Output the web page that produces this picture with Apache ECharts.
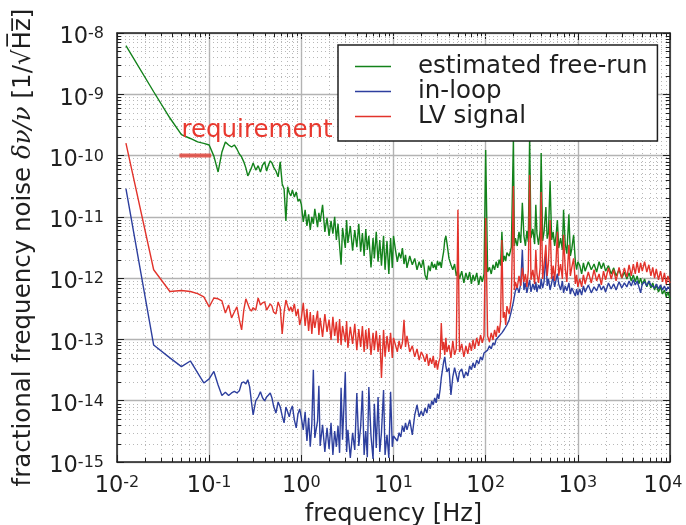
<!DOCTYPE html>
<html>
<head>
<meta charset="utf-8">
<script src="https://cdn.jsdelivr.net/npm/echarts@6/dist/echarts.min.js"></script>
<style>
  html, body { margin: 0; padding: 0; background: #ffffff; }
  #chart { width: 686px; height: 525px; }
</style>
</head>
<body>
<div id="chart"></div>
<script>
// Fourier frequencies of the noise spectra [Hz]
const freqHz = [
  0.0125, 0.025, 0.0375, 0.05, 0.0625, 0.075, 0.0875, 0.1, 0.1125, 0.125, 0.1375, 0.15,
  0.1625, 0.175, 0.1875, 0.2, 0.2125, 0.225, 0.2375, 0.25, 0.2625, 0.275, 0.2875, 0.3,
  0.32, 0.34, 0.36, 0.38, 0.4, 0.42, 0.44, 0.46, 0.48, 0.5, 0.53, 0.56, 0.59, 0.62, 0.65,
  0.68, 0.71, 0.74, 0.77, 0.8, 0.84, 0.88, 0.92, 0.96, 1,
  1.05, 1.1, 1.15, 1.2, 1.25, 1.3, 1.35, 1.4, 1.5, 1.55, 1.6, 1.7, 1.8, 1.9, 2, 2.1, 2.2,
  2.3, 2.4, 2.5, 2.6, 2.7, 2.8, 3, 3.1, 3.2, 3.4, 3.6, 3.8, 4, 4.2, 4.4, 4.6, 4.8, 5, 5.2,
  5.4, 5.7, 6, 6.2, 6.5, 6.8, 7.1, 7.4, 7.8, 8.1, 8.5, 8.9, 9.3, 9.7, 10,
  10.5, 11, 11.5, 12, 12.5, 13, 13.5, 14, 15, 16, 17, 18, 19, 20, 21, 22, 23, 24, 25, 26,
  27, 28, 29, 30, 31, 32, 33, 34, 35, 36, 37, 38, 40, 42, 44, 46, 48, 50, 52, 55, 58, 61,
  64, 67, 70, 73, 76, 80, 84, 88, 92, 96, 100,
  105, 110, 115, 120, 125, 130, 135, 140, 145, 150, 155, 160, 165, 170, 180, 190, 200, 205,
  210, 220, 230, 240, 250, 260, 270, 280, 290, 300, 310, 325, 340, 350, 360, 375, 390, 400,
  415, 430, 450, 465, 480, 500, 520, 540, 560, 580, 600, 620, 650, 680, 700, 730, 760, 800,
  830, 860, 900, 940, 970, 1000,
  1050, 1100, 1150, 1200, 1300, 1400, 1500, 1600, 1700, 1800, 1900, 2000, 2150, 2300, 2450,
  2600, 2800, 3000, 3200, 3400, 3600, 3800, 4000, 4200, 4400, 4600, 4800, 5000, 5300, 5600,
  5900, 6200, 6500, 6800, 7100, 7500, 7900, 8300, 8700, 9100, 9500, 10000
];

// estimated free-running laser noise [1/sqrt(Hz)]
const freeRun = [
  6.2e-9, 1.1e-9, 4.1e-10, 2.2e-10, 1.9e-10, 1.67e-10, 1.58e-10, 1.49e-10,
  9.8e-11, 5.4e-11, 1.14e-10, 1.67e-10, 1.49e-10, 1.38e-10, 1.49e-10, 1.28e-10,
  1.06e-10, 9.5e-11, 7.9e-11, 6.3e-11, 4.65e-11, 4.5e-11, 6.3e-11, 7.6e-11,
  5.8e-11, 6.8e-11, 5.4e-11, 7.0e-11, 7.9e-11, 5.6e-11, 7.0e-11, 8.2e-11,
  7.6e-11, 6.5e-11, 5.6e-11, 4.5e-11, 7.9e-11, 3.45e-11, 2.85e-11, 8.6e-12,
  3.1e-11, 2.45e-11, 2.2e-11, 2.75e-11, 2.1e-11, 2.55e-11, 1.8e-11, 1.95e-11, 1.6e-11,
  8.3e-12, 1.3e-11, 7.1e-12, 1.1e-11, 6.1e-12, 1.0e-11, 7.7e-12, 1.35e-11,
  6.8e-12, 1.16e-11, 8.3e-12, 1.57e-11, 5.7e-12, 9.6e-12, 4.9e-12, 8.6e-12,
  5.3e-12, 1.0e-11, 4.2e-12, 7.7e-12, 3.35e-12, 1.65e-12, 6.6e-12, 3.1e-12,
  8.9e-12, 3.75e-12, 7.1e-12, 2.8e-12, 6.1e-12, 3.2e-12, 7.7e-12, 2.7e-12,
  5.45e-12, 2.3e-12, 6.35e-12, 2.9e-12, 4.9e-12, 1.5e-12, 4.5e-12, 2.1e-12,
  5.7e-12, 1.85e-12, 4.2e-12, 1.6e-12, 4.9e-12, 1.37e-12, 4.05e-12, 1.17e-12,
  4.5e-12, 1.47e-12, 4.9e-12,
  2.9e-12, 1.85e-12, 2.6e-12, 2.1e-12, 3.1e-12, 1.7e-12, 2.4e-12, 1.47e-12,
  2.3e-12, 1.65e-12, 2.1e-12, 1.37e-12, 1.85e-12, 1.47e-12, 2.0e-12, 1.13e-12,
  9.4e-13, 1.6e-12, 1.3e-12, 1.85e-12, 1.47e-12, 1.7e-12, 1.37e-12, 1.9e-12,
  1.6e-12, 1.85e-12, 1.47e-12, 2.1e-12, 2.7e-12, 4.2e-12, 4.9e-12, 3.75e-12,
  2.1e-12, 1.65e-12, 1.37e-12, 1.7e-12, 1.09e-12, 1.37e-12, 9.7e-13, 1.3e-12,
  8.35e-13, 1.22e-12, 9.4e-13, 1.26e-12, 8.05e-13, 1.13e-12, 9.0e-13, 1.22e-12,
  7.75e-13, 1.09e-12, 8.7e-13, 1.17e-12, 1.23e-10,
  1.26e-12, 1.5e-12, 1.17e-12, 1.65e-12, 1.37e-12, 1.85e-12, 1.47e-12, 2.0e-12,
  1.6e-12, 5.7e-12, 1.85e-12, 2.3e-12, 1.9e-12, 2.6e-12, 2.3e-12, 3.2e-12,
  1.93e-10, 3.35e-12, 4.5e-12, 3.35e-12, 5.7e-12, 3.75e-12, 1.7e-11, 4.9e-12,
  3.35e-12, 5.9e-12, 3.9e-12, 2.1e-10, 4.5e-12, 6.35e-12, 3.6e-12, 1.57e-11,
  5.3e-12, 3.5e-12, 6.1e-12, 1.1e-10, 4.05e-12, 5.7e-12, 1.45e-11, 4.4e-12,
  5.45e-12, 3.85e-11, 4.2e-12, 5.7e-12, 3.35e-12, 4.9e-12, 8.9e-12, 3.1e-12,
  4.5e-12, 2.9e-12, 1.3e-11, 3.6e-12, 2.5e-12, 1.1e-11, 2.3e-12, 3.0e-12,
  5.1e-12, 1.85e-12, 1.37e-12, 1.85e-12,
  1.6e-12, 1.17e-12, 1.78e-12, 1.3e-12, 1.85e-12, 1.37e-12, 1.7e-12, 1.26e-12,
  1.85e-12, 1.42e-12, 1.78e-12, 1.3e-12, 1.6e-12, 1.17e-12, 1.47e-12, 1.09e-12,
  1.37e-12, 1.0e-12, 1.26e-12, 9.7e-13, 1.22e-12, 9.0e-13, 1.13e-12, 8.7e-13,
  1.09e-12, 8.05e-13, 1.0e-12, 7.75e-13, 9.7e-13, 7.2e-13, 9.0e-13, 6.9e-13,
  8.35e-13, 6.4e-13, 7.75e-13, 5.95e-13, 7.2e-13, 5.5e-13, 6.4e-13, 4.95e-13,
  5.95e-13, 4.6e-13
];

// in-loop error signal [1/sqrt(Hz)]
const inLoop = [
  2.9e-11, 8.1e-14, 5.0e-14, 3.6e-14, 4.45e-14, 2.85e-14, 1.95e-14, 2.27e-14,
  3.0e-14, 1.8e-14, 1.22e-14, 1.37e-14, 1.22e-14, 1.34e-14, 1.42e-14, 1.34e-14,
  1.45e-14, 1.95e-14, 2.03e-14, 1.87e-14, 2.2e-14, 1.68e-14, 9.55e-15, 5.85e-15,
  9.9e-15, 1.15e-14, 1.4e-14, 1.11e-14, 9.9e-15, 1.15e-14, 1.24e-14, 1.34e-14,
  1.11e-14, 8.2e-15, 6.3e-15, 9.55e-15, 7.9e-15, 5.65e-15, 4.35e-15, 7.9e-15,
  6.6e-15, 5.45e-15, 7.1e-15, 8.2e-15, 4.86e-15, 3.6e-15, 6.1e-15, 7.35e-15, 5.25e-15,
  3.35e-15, 6.6e-15, 2.2e-15, 5.25e-15, 1.77e-15, 4.2e-15, 3.2e-14, 2.47e-15,
  4.7e-15, 1.75e-14, 1.83e-15, 4.05e-15, 1.46e-15, 3.6e-15, 1.63e-15, 4.35e-15,
  1.3e-15, 3.2e-15, 1.77e-15, 3.9e-15, 1.41e-15, 1.62e-14, 2.3e-15, 2.95e-14,
  1.46e-15, 3.35e-15, 1.16e-15, 3.0e-15, 1.57e-15, 1.34e-14, 1.83e-15, 3.75e-15,
  1.45e-14, 1.3e-15, 3.2e-15, 1.2e-15, 1.68e-14, 2.66e-15, 1.12e-15, 8.9e-15,
  1.7e-15, 1.15e-14, 1.46e-15, 3.0e-15, 1.5e-14, 1.3e-15, 2.77e-15, 1.16e-15,
  1.4e-14, 1.77e-15, 2.66e-15,
  2.47e-15, 2.2e-15, 3.0e-15, 2.56e-15, 3.9e-15, 3.1e-15, 4.35e-15, 3.35e-15,
  4.86e-15, 2.77e-15, 5.85e-15, 8.55e-15, 5.45e-15, 6.8e-15, 5.65e-15, 7.6e-15,
  6.3e-15, 8.9e-15, 7.35e-15, 9.9e-15, 8.55e-15, 1.11e-14, 9.2e-15, 1.29e-14,
  1.07e-14, 1.5e-14, 2.35e-14, 3.2e-14, 4.3e-14, 5.2e-14, 3.7e-14, 2.95e-14,
  3.45e-14, 1.24e-14, 2.45e-14, 3.45e-14, 2.63e-14, 2.03e-14, 2.95e-14, 3.3e-14,
  2.35e-14, 2.95e-14, 2.54e-14, 3.7e-14, 3.2e-14, 4.15e-14, 3.45e-14, 4.6e-14,
  4.0e-14, 5.2e-14, 4.6e-14, 6.0e-14, 6.25e-14,
  6.7e-14, 7.85e-14, 7.0e-14, 8.8e-14, 8.1e-14, 1.0e-13, 9.45e-14, 1.14e-13,
  1.06e-13, 1.28e-13, 1.23e-13, 1.48e-13, 1.38e-13, 1.72e-13, 2.1e-13, 2.9e-13,
  4.1e-13, 5.1e-13, 6.2e-13, 7.2e-13, 5.75e-13, 8.05e-13, 2.9e-12, 6.4e-13,
  8.35e-13, 5.75e-13, 7.45e-13, 9.4e-13, 5.95e-13, 8.05e-13, 6.4e-13, 8.7e-13,
  5.95e-13, 7.75e-13, 6.65e-13, 9.7e-13, 6.9e-13, 8.7e-13, 2.4e-12, 7.45e-13,
  9.7e-13, 6.4e-13, 8.35e-13, 1.09e-12, 7.2e-13, 9.4e-13, 1.17e-12, 8.05e-13,
  6.4e-13, 9.0e-13, 5.75e-13, 7.45e-13, 6.2e-13, 8.35e-13, 5.5e-13, 6.9e-13,
  5.95e-13, 5.1e-13, 6.65e-13, 5.3e-13,
  6.65e-13, 5.3e-13, 7.45e-13, 5.95e-13, 7.75e-13, 5.75e-13, 7.2e-13, 6.2e-13,
  8.05e-13, 6.4e-13, 7.45e-13, 5.95e-13, 8.35e-13, 6.65e-13, 8.05e-13, 6.4e-13,
  8.7e-13, 6.9e-13, 8.35e-13, 7.2e-13, 9.0e-13, 7.45e-13, 9.4e-13, 7.75e-13,
  9.0e-13, 7.2e-13, 5.75e-13, 8.05e-13, 8.7e-13, 7.45e-13, 9.0e-13, 7.75e-13,
  8.35e-13, 6.9e-13, 8.05e-13, 6.65e-13, 7.75e-13, 6.4e-13, 7.45e-13, 6.2e-13,
  7.2e-13, 6.65e-13
];

// LV (out-of-loop) signal [1/sqrt(Hz)]
const lvSignal = [
  1.6e-10, 1.37e-12, 6.05e-13, 6.3e-13, 6.05e-13, 5.6e-13, 4.95e-13, 3.4e-13,
  4.75e-13, 4.6e-13, 4.25e-13, 2.7e-13, 3.65e-13, 2.25e-13, 2.8e-13, 3.4e-13,
  2.1e-13, 1.43e-13, 3.0e-13, 4.6e-13, 3.8e-13, 3.15e-13, 2.9e-13, 3.3e-13,
  3.0e-13, 4.75e-13, 3.65e-13, 3.95e-13, 4.1e-13, 3.0e-13, 3.4e-13, 3.8e-13,
  3.5e-13, 2.8e-13, 2.6e-13, 4.1e-13, 3.3e-13, 1.23e-13, 2.8e-13, 4.4e-13,
  3.5e-13, 2.9e-13, 3.4e-13, 2.8e-13, 3.8e-13, 2.4e-13, 3.15e-13, 1.72e-13, 2.25e-13,
  3.95e-13, 1.66e-13, 3.15e-13, 1.38e-13, 2.8e-13, 1.23e-13, 2.5e-13, 1.54e-13,
  2.9e-13, 1.18e-13, 2.25e-13, 1.1e-13, 2.6e-13, 1.33e-13, 2.1e-13, 9.8e-14,
  2.33e-13, 1.14e-13, 1.93e-13, 8.8e-14, 2.16e-13, 8.1e-14, 1.66e-13, 9.1e-14,
  2.0e-13, 7.3e-14, 1.6e-13, 8.45e-14, 1.8e-13, 6.7e-14, 1.48e-13, 7.55e-14,
  1.66e-13, 6.25e-14, 1.43e-13, 7.0e-14, 1.54e-13, 5.6e-14, 1.28e-13, 6.7e-14,
  1.38e-13, 6.25e-14, 1.18e-13, 2.35e-14, 1.43e-13, 5.2e-14, 1.14e-13, 6.25e-14,
  1.28e-13, 5.0e-14, 1.06e-13,
  8.1e-14, 6.25e-14, 9.45e-14, 7.0e-14, 8.8e-14, 2.1e-13, 7.55e-14, 1.14e-13,
  6.25e-14, 7.85e-14, 5.2e-14, 7.0e-14, 4.6e-14, 6.25e-14, 5.4e-14, 4.3e-14,
  5.8e-14, 3.7e-14, 5.0e-14, 4.0e-14, 5.4e-14, 3.45e-14, 4.6e-14, 3.2e-14,
  4.3e-14, 5.0e-14, 1.86e-13, 6.7e-14, 9.1e-14, 5.6e-14, 1.06e-13, 6.25e-14,
  8.1e-14, 5.0e-14, 9.45e-14, 5.6e-14, 7.0e-14, 1.3e-11, 6.25e-14, 8.45e-14,
  5.2e-14, 7.85e-14, 5.8e-14, 8.8e-14, 6.5e-14, 9.8e-14, 7.0e-14, 1.06e-13,
  7.85e-14, 1.18e-13, 8.8e-14, 1.14e-13, 9.6e-12,
  1.14e-13, 9.1e-14, 1.28e-13, 9.8e-14, 1.43e-13, 1.1e-13, 1.66e-13, 1.28e-13,
  1.93e-13, 4.2e-12, 2.25e-13, 2.8e-13, 1.72e-13, 3.5e-13, 2.6e-13, 4.75e-13,
  3.2e-11, 6.4e-13, 8.7e-13, 6.9e-13, 1.09e-12, 7.45e-13, 1.47e-12, 8.7e-13,
  1.17e-12, 7.2e-13, 1.3e-12, 4.8e-11, 9.4e-13, 1.37e-12, 8.05e-13, 2.9e-12,
  1.17e-12, 8.35e-13, 1.5e-12, 2.55e-11, 9.7e-13, 1.65e-12, 3.5e-12, 1.09e-12,
  1.78e-12, 8.9e-12, 9.7e-13, 1.6e-12, 9.0e-13, 1.85e-12, 5.7e-12, 1.09e-12,
  1.7e-12, 9.7e-13, 5.1e-12, 1.42e-12, 8.7e-13, 3.5e-12, 1.09e-12, 1.5e-12,
  2.1e-12, 8.05e-13, 1.13e-12, 7.2e-13,
  9.7e-13, 7.2e-13, 1.13e-12, 8.05e-13, 1.26e-12, 8.35e-13, 1.37e-12, 9.0e-13,
  1.17e-12, 7.75e-13, 1.3e-12, 9.4e-13, 1.47e-12, 9.7e-13, 1.37e-12, 9.0e-13,
  1.5e-12, 1.0e-12, 1.47e-12, 1.04e-12, 1.65e-12, 1.09e-12, 1.7e-12, 1.17e-12,
  1.85e-12, 1.22e-12, 1.78e-12, 1.3e-12, 1.85e-12, 1.26e-12, 1.65e-12, 1.09e-12,
  1.5e-12, 1.0e-12, 1.42e-12, 9.4e-13, 1.3e-12, 8.7e-13, 1.22e-12, 8.05e-13,
  1.09e-12, 8.35e-13
];

const seriesNames = ['estimated free-run', 'in-loop', 'LV signal'];
const seriesColors = ['#13821b', '#2d3f9e', '#e2332b'];

// requirement: flat level over a frequency band
const requirementBand = [0.05, 0.1];
const requirementLevel = 1e-10;
const requirementText = 'requirement';

const xRange = [1e-2, 1e4];
const yRange = [1e-15, 1e-8];
const minorMantissas = [2, 3, 4, 5, 6, 7, 8, 9];

const FONT = '"DejaVu Sans", "Liberation Sans", sans-serif';
const INK = '#1f1f1f';

function minorValues(range) {
  const out = [];
  const e0 = Math.round(Math.log10(range[0]));
  const e1 = Math.round(Math.log10(range[1]));
  for (let e = e0; e < e1; e++) {
    for (const m of minorMantissas) out.push(m * Math.pow(10, e));
  }
  return out;
}
const minorX = minorValues(xRange);
const minorY = minorValues(yRange);

const expOf = v => Math.round(Math.log10(v));
const powerLabel = v => '{b|10}{s|' + expOf(v) + '}';
// the last frequency label is nudged left so it stays inside the canvas
const freqLabel = v => powerLabel(v) + (expOf(v) === expOf(xRange[1]) ? '{p|}' : '');
const powerRich = {
  b: { fontSize: 22.5, fontFamily: FONT, color: INK, lineHeight: 30, verticalAlign: 'top' },
  s: { fontSize: 16, fontFamily: FONT, color: INK, lineHeight: 10, verticalAlign: 'top' },
  p: { width: 14 }
};

function dotted() { return { stroke: '#b8b8b8', lineWidth: 1, lineDash: [1, 3] }; }
function tickInk() { return { stroke: INK, lineWidth: 1 }; }

// dotted minor grid at 2..9 x 10^n with inward minor ticks on both frame edges
function renderMinorX(params, api) {
  const cs = params.coordSys;
  const x = Math.round(api.coord([api.value(0), yRange[0]])[0]) + 0.5;
  const top = cs.y, bot = cs.y + cs.height;
  return { type: 'group', children: [
    { type: 'line', shape: { x1: x, y1: top, x2: x, y2: bot }, style: dotted() },
    { type: 'line', shape: { x1: x, y1: bot, x2: x, y2: bot - 4 }, style: tickInk() },
    { type: 'line', shape: { x1: x, y1: top, x2: x, y2: top + 4 }, style: tickInk() }
  ] };
}
function renderMinorY(params, api) {
  const cs = params.coordSys;
  const y = Math.round(api.coord([xRange[0], api.value(1)])[1]) + 0.5;
  const left = cs.x, right = cs.x + cs.width;
  return { type: 'group', children: [
    { type: 'line', shape: { x1: left, y1: y, x2: right, y2: y }, style: dotted() },
    { type: 'line', shape: { x1: left, y1: y, x2: left + 4, y2: y }, style: tickInk() },
    { type: 'line', shape: { x1: right, y1: y, x2: right - 4, y2: y }, style: tickInk() }
  ] };
}

function spectrum(name, values, color, z) {
  return {
    name, type: 'line', z,
    data: freqHz.map((f, i) => [f, values[i]]),
    symbol: 'none', showSymbol: false, silent: true,
    lineStyle: { color, width: 1.4 },
    itemStyle: { color }
  };
}

const frameLine = { show: true, lineStyle: { color: INK, width: 1.5 } };
const majorTick = { show: true, inside: true, length: 7, lineStyle: { color: INK, width: 1 } };

const chart = echarts.init(document.getElementById('chart'), null, { renderer: 'canvas' });
chart.setOption({
  animation: false,
  backgroundColor: '#ffffff',
  grid: { left: 117, right: 16, top: 33, bottom: 63, containLabel: false, outerBoundsMode: 'none' },
  xAxis: [
    {
      type: 'log', logBase: 10, min: xRange[0], max: xRange[1], position: 'bottom',
      axisLine: frameLine, axisTick: majorTick,
      axisLabel: { formatter: freqLabel, rich: powerRich, margin: 13 },
      splitLine: { show: true, lineStyle: { color: '#b3b3b3', width: 1.4 } },
      name: 'frequency [Hz]', nameLocation: 'middle', nameGap: 38,
      nameTextStyle: { fontSize: 24, fontFamily: FONT, color: INK }
    },
    {
      type: 'log', logBase: 10, min: xRange[0], max: xRange[1], position: 'top',
      axisLine: frameLine, axisTick: majorTick, axisLabel: { show: false },
      splitLine: { show: false }
    }
  ],
  yAxis: [
    {
      type: 'log', logBase: 10, min: yRange[0], max: yRange[1], position: 'left',
      axisLine: frameLine, axisTick: majorTick,
      axisLabel: { formatter: powerLabel, rich: powerRich, margin: 13, padding: [16, 0, 0, 0] },
      splitLine: { show: true, lineStyle: { color: '#b3b3b3', width: 1.4 } },
      name: '{t|fractional frequency noise }{m|δν/ν}{t| [1/√H\u0305z\u0305]}',
      nameLocation: 'middle', nameGap: 81, nameRotate: 90,
      nameTextStyle: {
        rich: {
          t: { fontSize: 24.5, fontFamily: FONT, color: INK },
          m: { fontSize: 24.5, fontFamily: '"DejaVu Serif", serif', fontStyle: 'italic', color: INK }
        }
      }
    },
    {
      type: 'log', logBase: 10, min: yRange[0], max: yRange[1], position: 'right',
      axisLine: frameLine, axisTick: majorTick, axisLabel: { show: false },
      splitLine: { show: false }
    }
  ],
  legend: {
    data: seriesNames, orient: 'vertical', left: 338, top: 45,
    padding: [9, 10, 12, 17], itemGap: 0, itemWidth: 36, itemHeight: 1.6,
    icon: 'rect',
    backgroundColor: '#ffffff', borderColor: INK, borderWidth: 1.5, borderRadius: 0,
    selectedMode: false,
    formatter: n => '{g|}{t|' + n + '}',
    textStyle: {
      rich: {
        g: { width: 22 },
        t: { fontSize: 24.5, fontFamily: FONT, color: INK, lineHeight: 22 }
      }
    }
  },
  series: [
    {
      type: 'custom', name: 'minor-x', silent: true, z: 1,
      data: minorX.map(v => [v, yRange[0]]), renderItem: renderMinorX
    },
    {
      type: 'custom', name: 'minor-y', silent: true, z: 1,
      data: minorY.map(v => [xRange[0], v]), renderItem: renderMinorY
    },
    spectrum(seriesNames[0], freeRun, seriesColors[0], 3),
    spectrum(seriesNames[1], inLoop, seriesColors[1], 4),
    spectrum(seriesNames[2], lvSignal, seriesColors[2], 5),
    {
      type: 'line', name: 'requirement', z: 6, silent: true,
      symbol: 'circle', symbolSize: 0, showSymbol: true,
      lineStyle: { color: 'rgba(226,62,52,0.8)', width: 4, cap: 'square' },
      itemStyle: { color: 'rgba(226,62,52,0.8)' },
      data: [
        {
          value: [requirementBand[0], requirementLevel],
          label: {
            show: true, formatter: requirementText, position: [0, -25],
            align: 'left', verticalAlign: 'middle',
            fontSize: 24.5, fontFamily: FONT, color: '#e8382e'
          }
        },
        { value: [requirementBand[1], requirementLevel], label: { show: false } }
      ]
    }
  ]
});
</script>
</body>
</html>
